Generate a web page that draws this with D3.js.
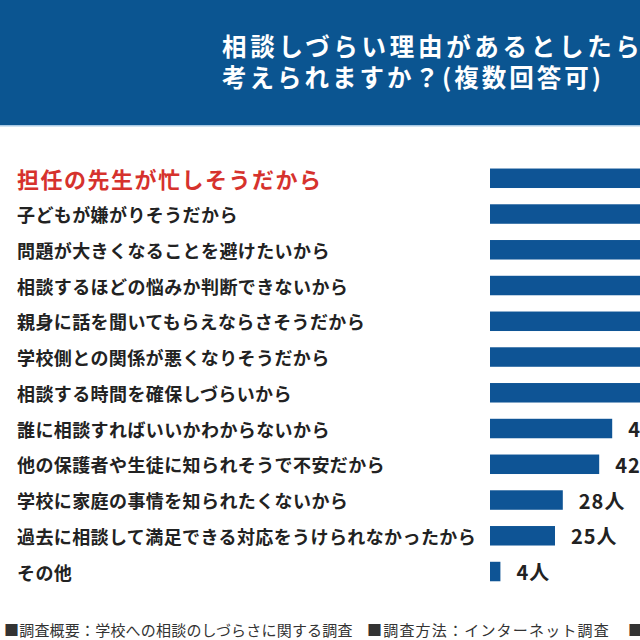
<!DOCTYPE html>
<html><head><meta charset="utf-8">
<script src="https://cdn.jsdelivr.net/npm/d3@7"></script>
<style>html,body{margin:0;padding:0;background:#fff;overflow:hidden}</style>
</head><body>
<script>
const titleLines = ["相談しづらい理由があるとしたら何が", "考えられますか？(複数回答可)"];
const categories = [
  "担任の先生が忙しそうだから",
  "子どもが嫌がりそうだから",
  "問題が大きくなることを避けたいから",
  "相談するほどの悩みか判断できないから",
  "親身に話を聞いてもらえならさそうだから",
  "学校側との関係が悪くなりそうだから",
  "相談する時間を確保しづらいから",
  "誰に相談すればいいかわからないから",
  "他の保護者や生徒に知られそうで不安だから",
  "学校に家庭の事情を知られたくないから",
  "過去に相談して満足できる対応をうけられなかったから",
  "その他"
];
// top seven values are cut off in the reference; estimated (must exceed ~58)
const values = [126, 87, 78, 70, 66, 62, 59, 47, 42, 28, 25, 4];
const unit = "人";
const footerParts = ["■調査概要：学校への相談のしづらさに関する調査", "■調査方法：インターネット調査", "■"];

const W = 640, H = 640;
const svg = d3.select("body").append("svg").attr("width", W).attr("height", H)
  .style("font-family", "'Noto Sans CJK JP','Noto Sans',sans-serif");

// banner
svg.append("rect").attr("x", 0).attr("y", 0).attr("width", W).attr("height", 125).attr("fill", "#0b5591");
svg.append("rect").attr("x", 0).attr("y", 125).attr("width", W).attr("height", 1.5).attr("fill", "#a9c9e4");
const titleSpacing = [3.7, 3.0];
svg.selectAll("text.title").data(titleLines).join("text")
  .attr("class", "title")
  .attr("x", 222).attr("y", (d, i) => 56 + i * 31)
  .attr("fill", "#fff").attr("font-size", 24.5).attr("font-weight", 700)
  .attr("letter-spacing", (d, i) => titleSpacing[i] + "px")
  .text(d => d);

const x = d3.scaleLinear().domain([0, 100]).range([490, 750]);
const y = d3.scaleBand().domain(categories).range([160.4, 589.4]).paddingInner(0.455).paddingOuter(0.2275);

svg.selectAll("rect.bar").data(values).join("rect")
  .attr("class", "bar")
  .attr("x", x(0)).attr("y", (d, i) => y(categories[i]))
  .attr("width", d => x(d) - x(0)).attr("height", y.bandwidth())
  .attr("fill", "#0e5495");

svg.selectAll("text.cat").data(categories).join("text")
  .attr("class", "cat")
  .attr("x", 17)
  .attr("y", d => y(d) + y.bandwidth() / 2)
  .attr("dominant-baseline", "central")
  .attr("fill", (d, i) => i === 0 ? "#d6322d" : "#222")
  .attr("font-size", (d, i) => i === 0 ? 22 : 18)
  .attr("letter-spacing", (d, i) => i === 0 ? "1.5px" : "0.4px")
  .attr("font-weight", 700)
  .text(d => d);

svg.selectAll("text.val").data(values).join("text")
  .attr("class", "val")
  .attr("x", d => x(d) + 16)
  .attr("y", (d, i) => y(categories[i]) + y.bandwidth() / 2)
  .attr("dominant-baseline", "central")
  .attr("fill", "#222").attr("font-size", 20).attr("font-weight", 700)
  .attr("letter-spacing", "1px")
  .text(d => d + unit);

const footX = [4, 367, 628];
const footSp = [0.2, 1.2, 0];
svg.selectAll("text.foot").data(footerParts).join("text")
  .attr("class", "foot")
  .attr("x", (d, i) => footX[i]).attr("y", 636)
  .attr("fill", "#333").attr("font-size", 15)
  .attr("letter-spacing", (d, i) => footSp[i] + "px")
  .text(d => d);
</script>
</body></html>
